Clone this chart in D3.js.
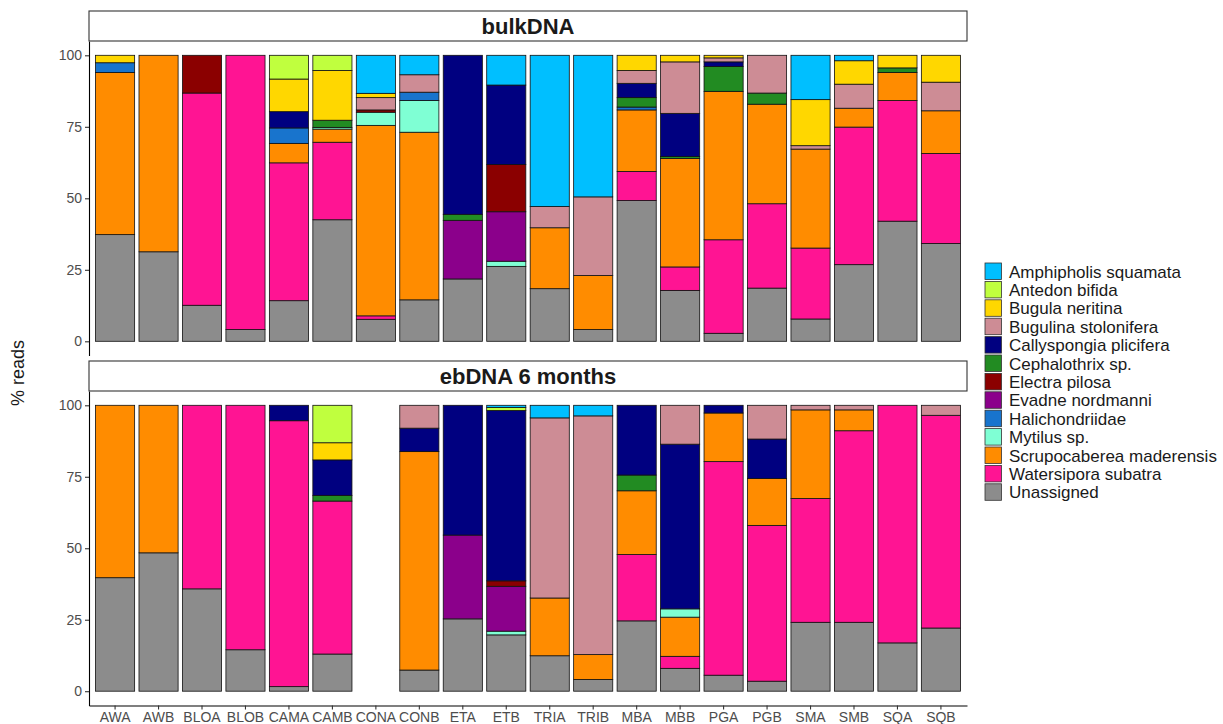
<!DOCTYPE html>
<html>
<head>
<meta charset="utf-8">
<script src="https://cdn.jsdelivr.net/npm/d3@7"></script>
<style>
  body { margin: 0; background: #fff; }
  svg { display: block; font-family: "Liberation Sans", Arial, sans-serif; }
</style>
</head>
<body>
<svg id="chart" width="1223" height="724"></svg>
<script>
// ---------------- DATA ----------------
const species = [
  "Amphipholis squamata", "Antedon bifida", "Bugula neritina", "Bugulina stolonifera",
  "Callyspongia plicifera", "Cephalothrix sp.", "Electra pilosa", "Evadne nordmanni",
  "Halichondriidae", "Mytilus sp.", "Scrupocaberea maderensis", "Watersipora subatra", "Unassigned"
];
const speciesColors = [
  "#00BFFF", "#C0FF3E", "#FFD700", "#CD8C95",
  "#000080", "#228B22", "#8B0000", "#8B008B",
  "#1874CD", "#7FFFD4", "#FF8C00", "#FF1493", "#8C8C8C"
];
const samples = ["AWA","AWB","BLOA","BLOB","CAMA","CAMB","CONA","CONB","ETA","ETB",
                 "TRIA","TRIB","MBA","MBB","PGA","PGB","SMA","SMB","SQA","SQB"];
const yTicks = [0, 25, 50, 75, 100];
const panelTitles = ["bulkDNA", "ebDNA 6 months"];
const yAxisTitle = "% reads";

// rows = samples, columns = species (same order as `species`), % reads
const bulkDNA = [
  [0,    0,   2.6,  0,    0,    0,   0,    0,    3.4, 0,    56.7, 0,    37.3], // AWA
  [0,    0,   0,    0,    0,    0,   0,    0,    0,   0,    68.7, 0,    31.3], // AWB
  [0,    0,   0,    0,    0,    0,   13.2, 0,    0,   0,    0,    74.2, 12.6], // BLOA
  [0,    0,   0,    0,    0,    0,   0,    0,    0,   0,    0,    95.9, 4.1 ], // BLOB
  [0,    8.3, 11.4, 0,    5.7,  0,   0,    0,    5.4, 0,    6.8,  48.2, 14.2], // CAMA
  [0,    5.3, 17.4, 0,    0,    2.5, 0,    0,    0,   0.6,  4.6,  27.1, 42.5], // CAMB
  [13.3, 0,   1.5,  4.3,  0,    0,   0.8,  0,    0,   4.6,  66.6, 1.2,  7.7 ], // CONA
  [6.8,  0,   0,    6.1,  0,    0,   0,    0,    2.9, 11.1, 58.6, 0,    14.5], // CONB
  [0,    0,   0,    0,    55.6, 2.1, 0,    20.5, 0,   0,    0,    0,    21.8], // ETA
  [10.4, 0,   0,    0,    27.8, 0,   16.5, 17.3, 0,   1.8,  0,    0,    26.2], // ETB
  [52.9, 0,   0,    7.4,  0,    0,   0,    0,    0,   0,    21.3, 0,    18.4], // TRIA
  [49.5, 0,   0,    27.5, 0,    0,   0,    0,    0,   0,    18.9, 0,    4.1 ], // TRIB
  [0,    0,   5.3,  4.5,  5.0,  3.3, 0,    0,    1.0, 0,    21.5, 10.2, 49.2], // MBA
  [0,    0,   2.3,  18.0, 15.1, 0.7, 0,    0,    0,   0,    37.9, 8.2,  17.8], // MBB
  [0,    0,   0.9,  1.4,  1.6,  8.7, 0,    0,    0,   0,    51.9, 32.7, 2.8 ], // PGA
  [0,    0,   0,    13.2, 0,    3.9, 0,    0,    0,   0,    34.8, 29.5, 18.6], // PGB
  [15.5, 0,   16.1, 1.2,  0,    0,   0,    0,    0,   0,    34.6, 24.8, 7.8 ], // SMA
  [1.9,  0,   8.2,  8.4,  0,    0,   0,    0,    0,   0,    6.6,  48.1, 26.8], // SMB
  [0,    0,   4.4,  0,    0,    1.6, 0,    0,    0,   0,    9.8,  42.2, 42.0], // SQA
  [0,    0,   9.4,  10.0, 0,    0,   0,    0,    0,   0,    14.9, 31.5, 34.2]  // SQB
];
const ebDNA6 = [
  [0,   0,    0,   0,    0,    0,   0,   0,    0, 0,   60.3, 0,    39.7], // AWA
  [0,   0,    0,   0,    0,    0,   0,   0,    0, 0,   51.6, 0,    48.4], // AWB
  [0,   0,    0,   0,    0,    0,   0,   0,    0, 0,   0,    64.2, 35.8], // BLOA
  [0,   0,    0,   0,    0,    0,   0,   0,    0, 0,   0,    85.5, 14.5], // BLOB
  [0,   0,    0,   0,    5.4,  0,   0,   0,    0, 0,   0,    93.0, 1.6 ], // CAMA
  [0,   13.1, 6.0, 0,    12.4, 2.0, 0,   0,    0, 0,   0,    53.5, 13.0], // CAMB
  [0,   0,    0,   0,    0,    0,   0,   0,    0, 0,   0,    0,    0   ], // CONA
  [0,   0,    0,   8.0,  8.2,  0,   0,   0,    0, 0,   76.4, 0,    7.4 ], // CONB
  [0,   0,    0,   0,    45.4, 0,   0,   29.3, 0, 0,   0,    0,    25.3], // ETA
  [0.8, 1.0,  0,   0,    59.6, 0,   1.9, 15.7, 0, 1.3, 0,    0,    19.7], // ETB
  [4.4, 0,    0,   63.0, 0,    0,   0,   0,    0, 0,   20.2, 0,    12.4], // TRIA
  [3.7, 0,    0,   83.5, 0,    0,   0,   0,    0, 0,   8.7,  0,    4.1 ], // TRIB
  [0,   0,    0,   0,    24.4, 5.5, 0,   0,    0, 0,   22.3, 23.2, 24.6], // MBA
  [0,   0,    0,   13.6, 57.6, 0,   0,   0,    0, 2.9, 13.7, 4.2,  8.0 ], // MBB
  [0,   0,    0,   0,    2.7,  0,   0,   0,    0, 0,   17.0, 74.7, 5.6 ], // PGA
  [0,   0,    0,   11.8, 13.8, 0,   0,   0,    0, 0,   16.4, 54.5, 3.5 ], // PGB
  [0,   0,    0,   1.6,  0,    0,   0,   0,    0, 0,   31.0, 43.3, 24.1], // SMA
  [0,   0,    0,   1.6,  0,    0,   0,   0,    0, 0,   7.3,  67.0, 24.1], // SMB
  [0,   0,    0,   0,    0,    0,   0,   0,    0, 0,   0,    83.1, 16.9], // SQA
  [0,   0,    0,   3.5,  0,    0,   0,   0,    0, 0,   0,    74.4, 22.1]  // SQB
];

// ---------------- CHART ----------------
const svg = d3.select("#chart");
svg.append("rect").attr("width", 1223).attr("height", 724).attr("fill", "#fff");

const panelLeft = 89, panelRight = 967;
const panels = [
  { title: panelTitles[0], data: bulkDNA, stripTop: 11, top: 41, bottom: 355.6, xAxis: false },
  { title: panelTitles[1], data: ebDNA6,  stripTop: 361, top: 391, bottom: 705.5, xAxis: true }
];

const color = d3.scaleOrdinal().domain(species).range(speciesColors);
const x = d3.scaleBand().domain(samples).range([panelLeft, panelRight])
  .paddingInner(0.1).paddingOuter(0.15);

// stack order: Unassigned at bottom, Amphipholis at top
const stackKeys = species.slice().reverse();
const stack = d3.stack().keys(stackKeys);

panels.forEach(p => {
  const y = d3.scaleLinear().domain([-5, 105]).range([p.bottom, p.top]);
  const rows = p.data.map((vals, i) => {
    const o = { sample: samples[i] };
    species.forEach((s, j) => o[s] = vals[j]);
    return o;
  });
  const series = stack(rows);
  const g = svg.append("g");
  series.forEach(ser => {
    g.selectAll(null)
      .data(ser.filter(d => d[1] - d[0] > 0))
      .enter().append("rect")
      .attr("x", d => x(d.data.sample))
      .attr("width", x.bandwidth())
      .attr("y", d => y(d[1]))
      .attr("height", d => y(d[0]) - y(d[1]))
      .attr("fill", color(ser.key))
      .attr("stroke", "#111")
      .attr("stroke-width", 0.8);
  });

  // y axis
  const ya = svg.append("g").attr("transform", `translate(${panelLeft},0)`)
    .call(d3.axisLeft(y).tickValues(yTicks).tickSize(4).tickSizeOuter(0).tickPadding(3));
  ya.select(".domain").attr("stroke", "#000").attr("stroke-width", 1.1);
  ya.selectAll(".tick line").attr("stroke", "#333").attr("stroke-width", 1.1);
  ya.selectAll(".tick text").attr("fill", "#4D4D4D").attr("font-size", 14)
    .style("font-family", "'Liberation Sans', Arial, sans-serif");

  if (p.xAxis) {
    const xa = svg.append("g").attr("transform", `translate(0,${p.bottom})`)
      .call(d3.axisBottom(x).tickSize(4).tickSizeOuter(0).tickPadding(3));
    xa.select(".domain").attr("stroke", "#000").attr("stroke-width", 1.1);
    xa.selectAll(".tick line").attr("stroke", "#333").attr("stroke-width", 1.1);
    xa.selectAll(".tick text").attr("fill", "#4D4D4D").attr("font-size", 14)
      .style("font-family", "'Liberation Sans', Arial, sans-serif");
  }

  // strip
  svg.append("rect")
    .attr("x", panelLeft).attr("y", p.stripTop)
    .attr("width", panelRight - panelLeft).attr("height", p.top - p.stripTop)
    .attr("fill", "#fff").attr("stroke", "#333").attr("stroke-width", 1.1);
  svg.append("text")
    .attr("x", (panelLeft + panelRight) / 2).attr("y", (p.stripTop + p.top) / 2)
    .attr("dy", "0.36em").attr("text-anchor", "middle")
    .attr("font-size", 22).attr("font-weight", "bold").attr("fill", "#1a1a1a")
    .text(p.title);
});

// y axis title
svg.append("text")
  .attr("transform", "translate(24,373) rotate(-90)")
  .attr("text-anchor", "middle").attr("font-size", 18).attr("fill", "#1a1a1a")
  .text(yAxisTitle);

// legend
const legend = svg.append("g").attr("transform", "translate(985,263)");
species.forEach((s, i) => {
  const row = legend.append("g").attr("transform", `translate(0,${i * 18.4})`);
  row.append("rect").attr("width", 16.5).attr("height", 16.5)
    .attr("fill", color(s)).attr("stroke", "#333").attr("stroke-width", 0.8);
  row.append("text").attr("x", 24).attr("y", 8.5).attr("dy", "0.36em")
    .attr("font-size", 17).attr("fill", "#1a1a1a").text(s);
});
</script>
</body>
</html>
